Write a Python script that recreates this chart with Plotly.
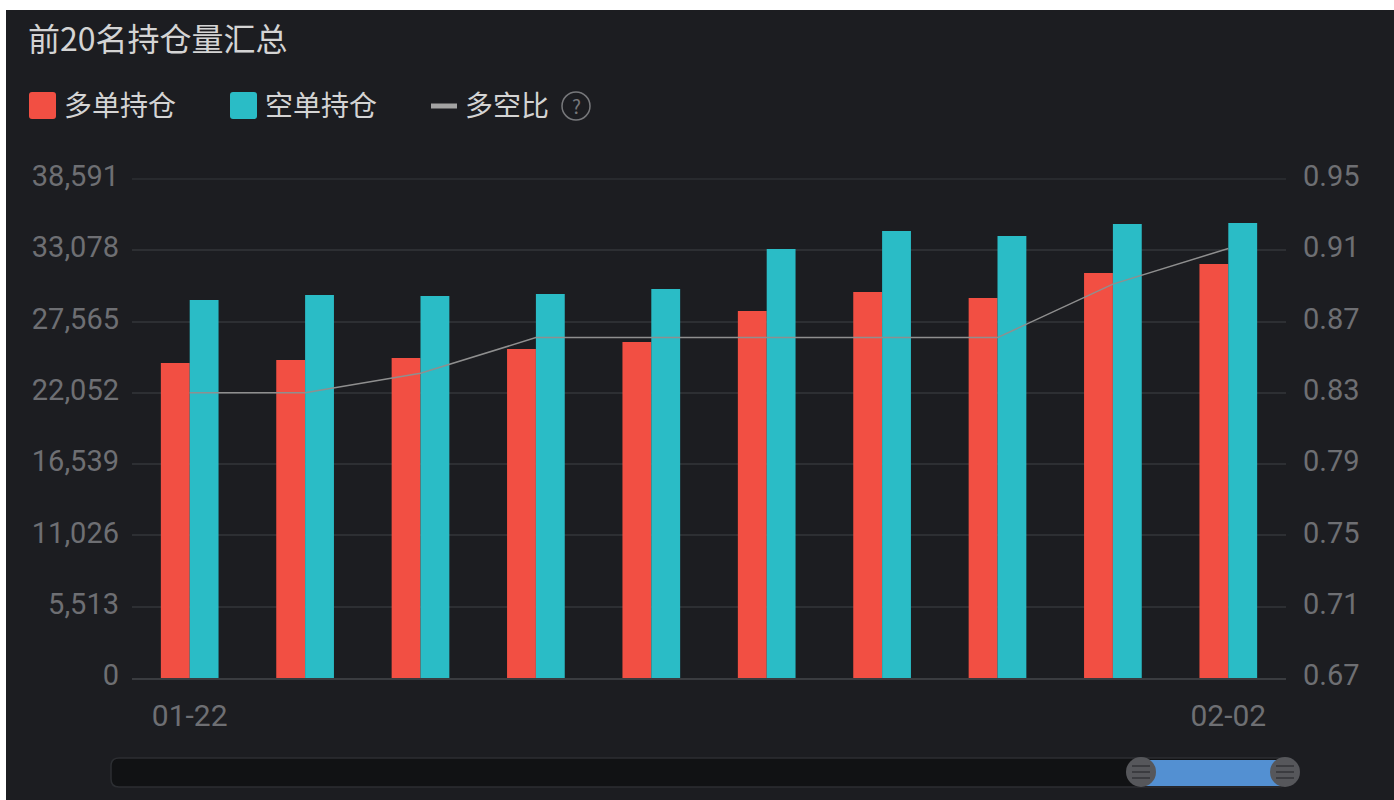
import plotly.graph_objects as go

categories = ["01-22", "01-23", "01-24", "01-25", "01-26", "01-29", "01-30", "01-31", "02-01", "02-02"]
long_positions = [24360, 24600, 24750, 25450, 25990, 28380, 29850, 29390, 31320, 32020]
short_positions = [29230, 29620, 29540, 29700, 30090, 33180, 34570, 34180, 35110, 35190]
long_short_ratio = [0.83, 0.83, 0.841, 0.861, 0.861, 0.861, 0.861, 0.861, 0.891, 0.911]
left_ticks = [0, 5513, 11026, 16539, 22052, 27565, 33078, 38591]
right_ticks = [0.67, 0.71, 0.75, 0.79, 0.83, 0.87, 0.91, 0.95]
x_labels = ["01-22", "02-02"]

BG = "#1c1d21"
RED = "#f24f43"
TEAL = "#2abcc6"
GRID = "#2d2f33"
TICK = "#6e6f73"
TEXT = "#d4d4d4"
FONT = "Noto Sans CJK SC, Roboto, sans-serif"

PL, PR, PT, PB = 132, 1286, 179, 678


def px(x):
    return (x - PL) / (PR - PL)


def py(y):
    return (PB - y) / (PB - PT)


def rect(x0, y0, x1, y1, fill, line=None, layer="above"):
    return dict(type="rect", xref="paper", yref="paper", x0=px(x0), x1=px(x1), y0=py(y0), y1=py(y1),
                fillcolor=fill, line=dict(color=line or fill, width=1 if line else 0), layer=layer)


def rrect(x0, y0, x1, y1, r, fill, line=None):
    pts = (
        f"M {px(x0 + r)} {py(y0)} L {px(x1 - r)} {py(y0)} Q {px(x1)} {py(y0)} {px(x1)} {py(y0 + r)} "
        f"L {px(x1)} {py(y1 - r)} Q {px(x1)} {py(y1)} {px(x1 - r)} {py(y1)} "
        f"L {px(x0 + r)} {py(y1)} Q {px(x0)} {py(y1)} {px(x0)} {py(y1 - r)} "
        f"L {px(x0)} {py(y0 + r)} Q {px(x0)} {py(y0)} {px(x0 + r)} {py(y0)} Z"
    )
    return dict(type="path", xref="paper", yref="paper", path=pts, fillcolor=fill,
                line=dict(color=line or fill, width=1.5 if line else 0))


def seg(x0, y0, x1, y1, color, width):
    return dict(type="line", xref="paper", yref="paper", x0=px(x0), x1=px(x1), y0=py(y0), y1=py(y1),
                line=dict(color=color, width=width))


def circle(cx, cy, r, fill, line=None, width=0):
    return dict(type="circle", xref="paper", yref="paper", x0=px(cx - r), x1=px(cx + r), y0=py(cy + r), y1=py(cy - r),
                fillcolor=fill, line=dict(color=line or fill, width=width))


def label(x, y, text, size, color, anchor="left"):
    return dict(xref="paper", yref="paper", x=px(x), y=py(y), text=text, showarrow=False, xanchor=anchor,
                yanchor="middle", font=dict(family=FONT, size=size, color=color))


fig = go.Figure()
fig.add_bar(x=categories, y=long_positions, name="多单持仓", marker=dict(color=RED, line_width=0), yaxis="y")
fig.add_bar(x=categories, y=short_positions, name="空单持仓", marker=dict(color=TEAL, line_width=0), yaxis="y")
fig.add_scatter(x=categories, y=long_short_ratio, name="多空比", mode="lines",
                line=dict(color="#8f8f8f", width=1.5), yaxis="y2")

shapes = [
    rect(6, 10, 1394, 800, BG, layer="below"),
    seg(PL, PT, PR, PT, GRID, 1.5),
    rrect(29, 92, 56, 119, 3, RED),
    rrect(230, 92, 257, 119, 3, TEAL),
    seg(431, 106, 457, 106, "#a3a3a3", 5),
    circle(576, 106, 14, "rgba(0,0,0,0)", "#77787b", 1.5),
    # data-zoom slider
    rrect(111, 758, 1286, 787, 8, "#111214", "#2c2e32"),
    rect(1141, 760, 1285, 786, "#5390d2"),
]
for cx in (1141, 1285):
    shapes.append(circle(cx, 772, 15, "#56575b"))
    for dy in (-6, 0, 6):
        shapes.append(seg(cx - 9, 772 + dy, cx + 9, 772 + dy, "#3b3c40", 2))

annotations = [
    label(26, 37, "前20名持仓量汇总", 32, TEXT),
    label(62, 104, "多单持仓", 28, TEXT),
    label(263, 104, "空单持仓", 28, TEXT),
    label(463, 104, "多空比", 28, TEXT),
    label(576, 106, "?", 19, "#77787b", "center"),
]

fig.update_layout(
    width=1394,
    height=800,
    autosize=False,
    margin=dict(l=PL, r=1394 - PR, t=PT, b=800 - PB, pad=0),
    paper_bgcolor="#ffffff",
    plot_bgcolor="rgba(0,0,0,0)",
    showlegend=False,
    barmode="group",
    bargap=0.5,
    bargroupgap=0,
    font=dict(family=FONT),
    shapes=shapes,
    annotations=annotations,
    xaxis=dict(
        type="category",
        categoryorder="array",
        categoryarray=categories,
        tickmode="array",
        tickvals=x_labels,
        ticktext=x_labels,
        ticks="",
        showgrid=False,
        showline=True,
        linecolor="#3a3c40",
        linewidth=1.5,
        zeroline=False,
        tickfont=dict(family="Roboto, sans-serif", size=30, color=TICK),
        ticklabelstandoff=10,
    ),
    yaxis=dict(
        range=[0, 38591],
        tickmode="array",
        tickvals=left_ticks,
        ticktext=[f"{v:,}" for v in left_ticks],
        showgrid=True,
        gridcolor=GRID,
        gridwidth=1.5,
        zeroline=False,
        showline=False,
        ticks="",
        tickfont=dict(family="Roboto, sans-serif", size=29, color=TICK),
        ticklabelshift=-3,
        ticklabelstandoff=12,
    ),
    yaxis2=dict(
        range=[0.67, 0.95],
        overlaying="y",
        side="right",
        tickmode="array",
        tickvals=right_ticks,
        ticktext=[f"{v:.2f}" for v in right_ticks],
        showgrid=False,
        zeroline=False,
        showline=False,
        ticks="",
        tickfont=dict(family="Roboto, sans-serif", size=29, color=TICK),
        ticklabelshift=-3,
        ticklabelstandoff=16,
    ),
)

fig.write_html("out.html", config={"displayModeBar": False},
               post_script="document.body.style.margin='0';document.body.style.overflow='hidden';")
